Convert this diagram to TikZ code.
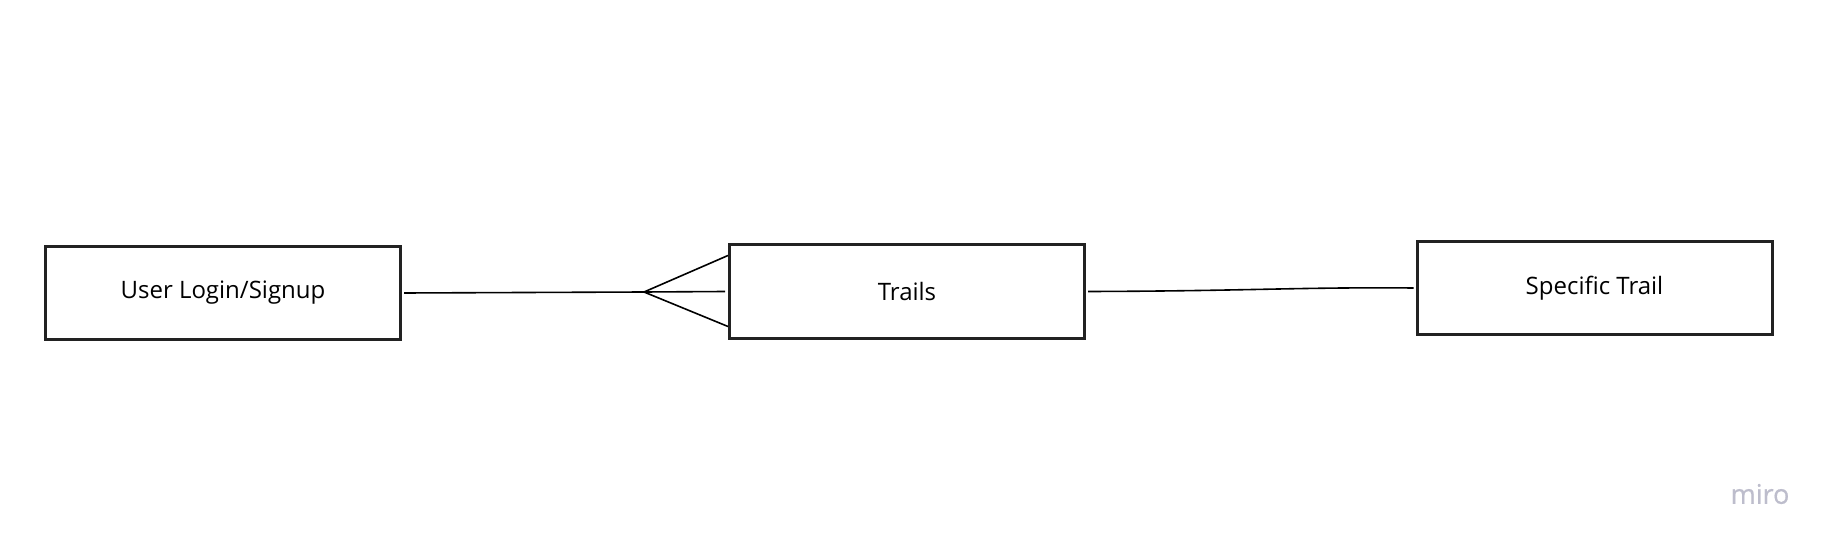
\documentclass[tikz,border=0pt]{standalone}
\usepackage{fontspec}
\setmainfont{Open Sans}
\newfontfamily\mirofont[FakeBold=0.6]{Open Sans}
\definecolor{boxline}{HTML}{222222}
\definecolor{mirogray}{HTML}{BDBDCC}
\tikzset{
  entity/.style={draw=boxline, line width=3pt, fill=white, minimum width=355pt, minimum height=93pt, inner sep=0pt, font=\fontsize{24}{28}\selectfont, text=black},
  conn/.style={draw=black, line width=1.6pt}
}
\begin{document}
\begin{tikzpicture}[x=1pt,y=-1pt]
\useasboundingbox (0,0) rectangle (1831,545);
\fill[white] (0,0) rectangle (1831,545);
\node[entity] (user) at (223,293) {User Login/Signup};
\node[entity] (trails) at (907,291.5) {Trails};
\node[entity] (spec) at (1594.5,288) {Specific Trail};
\coordinate (apex) at (644,292);
\draw[conn] (user.east) ++(2pt,0) coordinate (ustart) -- (apex);
\draw[conn] (apex) -- ([yshift=-35pt]trails.west);
\draw[conn] (apex) -- ([yshift=36pt]trails.west);
\draw[conn] (apex) -- ([xshift=-3pt]trails.west);
\draw[conn] ([xshift=2pt]trails.east) .. controls (1250,291) and (1300,287) .. ([xshift=-2pt]spec.west);
\node[text=mirogray, font=\mirofont\fontsize{27}{30}\selectfont, anchor=center] (miro) at (1760,494) {miro};
\end{tikzpicture}
\end{document}
